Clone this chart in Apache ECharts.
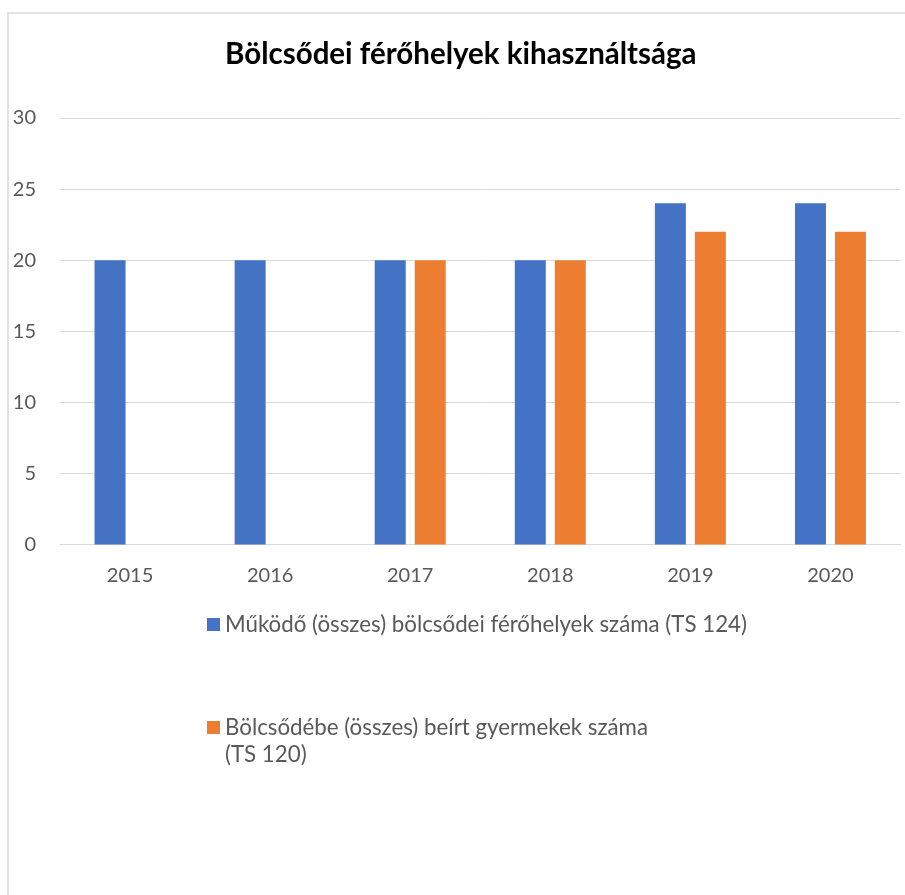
<!DOCTYPE html>
<html>
<head>
<meta charset="utf-8">
<script src="https://cdn.jsdelivr.net/npm/echarts@6/dist/echarts.min.js"></script>
<style>
html,body{margin:0;padding:0;background:#fff;}
#chart{width:905px;height:895px;}
</style>
</head>
<body>
<div id="chart"></div>
<script>
var titleText = 'Bölcsődei férőhelyek kihasználtsága';
var categories = ['2015', '2016', '2017', '2018', '2019', '2020'];
var seriesNames = ['Működő (összes) bölcsődei férőhelyek száma (TS 124)', 'Bölcsődébe (összes) beírt gyermekek száma (TS 120)'];
var placesValues = [20, 20, 20, 20, 24, 24];
var enrolledValues = [null, null, 20, 20, 22, 22];
var yTicks = {min: 0, max: 30, interval: 5};

var FONT = 'Lato';
var chart = echarts.init(document.getElementById('chart'));
chart.setOption({
  animation: false,
  backgroundColor: '#ffffff',
  title: {
    text: titleText,
    left: 225,
    top: 39,
    padding: 0,
    textStyle: {fontFamily: FONT, fontWeight: 'bold', fontSize: 29.5, color: '#000000'}
  },
  graphic: [{
    type: 'rect',
    shape: {x: 8, y: 13, width: 1000, height: 1000},
    style: {fill: 'none', stroke: '#d9d9d9', lineWidth: 1.5},
    silent: true
  }],
  legend: [{
    data: [seriesNames[0]],
    left: 207,
    top: 613.5,
    padding: 0,
    icon: 'rect',
    itemWidth: 13,
    itemHeight: 13,
    selectedMode: false,
    textStyle: {fontFamily: FONT, fontSize: 22.3, color: '#595959'}
  }, {
    data: [seriesNames[1]],
    left: 207,
    top: 687,
    padding: 0,
    icon: 'rect',
    itemWidth: 13,
    itemHeight: 13,
    selectedMode: false,
    formatter: function (name) { return '\n' + name.replace(' (TS 120)', '\n(TS 120)'); },
    textStyle: {fontFamily: FONT, fontSize: 22.3, color: '#595959', lineHeight: 27}
  }],
  grid: {left: 60, right: 4.5, top: 118, bottom: 350.5, containLabel: false},
  xAxis: {
    type: 'category',
    data: categories,
    axisLine: {lineStyle: {color: '#d9d9d9', width: 1}},
    axisTick: {show: false},
    axisLabel: {fontFamily: FONT, fontSize: 20, color: '#595959', margin: 21}
  },
  yAxis: {
    type: 'value',
    min: yTicks.min,
    max: yTicks.max,
    interval: yTicks.interval,
    axisLine: {show: false},
    axisTick: {show: false},
    splitLine: {lineStyle: {color: '#d9d9d9', width: 1}},
    axisLabel: {fontFamily: FONT, fontSize: 20, color: '#595959', margin: 24}
  },
  series: [{
    name: seriesNames[0],
    type: 'bar',
    data: placesValues,
    barWidth: 31,
    barGap: '29%',
    itemStyle: {color: '#4472C4'}
  }, {
    name: seriesNames[1],
    type: 'bar',
    data: enrolledValues,
    barWidth: 31,
    barGap: '29%',
    itemStyle: {color: '#ED7D31'}
  }]
});
</script>
</body>
</html>
